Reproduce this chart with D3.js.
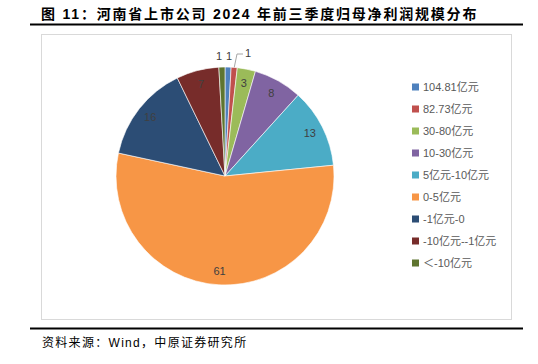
<!DOCTYPE html>
<html>
<head>
<meta charset="utf-8">
<script src="https://cdn.jsdelivr.net/npm/d3@7"></script>
<style>
  body { margin: 0; background: #fff; }
  svg { display: block; }
  text { font-family: "Liberation Sans", "Noto Sans CJK SC", sans-serif; }
</style>
</head>
<body>
<svg id="chart" width="538" height="364"></svg>
<script>
const categories = ["104.81亿元", "82.73亿元", "30-80亿元", "10-30亿元", "5亿元-10亿元", "0-5亿元", "-1亿元-0", "-10亿元--1亿元", "＜-10亿元"];
const counts = [1, 1, 3, 8, 13, 61, 16, 7, 1];
const colours = ["#4F81BD", "#C0504D", "#9BBB59", "#8064A2", "#4BACC6", "#F79646", "#2C4D75", "#772C2A", "#5F7530"];

const title = "图 11：河南省上市公司 2024 年前三季度归母净利润规模分布";
const source = "资料来源：Wind，中原证券研究所";

const svg = d3.select("#chart");

// title + rules
svg.append("text")
    .attr("x", 41).attr("y", 19)
    .style("font-size", "14px").style("font-weight", "bold").style("fill", "#000")
    .style("letter-spacing", "1.8px")
    .text(title);
svg.append("line").attr("x1", 30).attr("x2", 523).attr("y1", 24.5).attr("y2", 24.5)
    .style("stroke", "#000").style("stroke-width", 2);
svg.append("line").attr("x1", 30).attr("x2", 523).attr("y1", 328.5).attr("y2", 328.5)
    .style("stroke", "#000").style("stroke-width", 2);
svg.append("text")
    .attr("x", 42).attr("y", 347)
    .style("font-size", "12px").style("fill", "#000")
    .style("letter-spacing", "1.3px")
    .text(source);

// chart frame
svg.append("rect").attr("x", 41.5).attr("y", 34.5).attr("width", 470).attr("height", 285)
    .style("fill", "none").style("stroke", "#d9d9d9").style("stroke-width", 1);

const cx = 225, cy = 176, radius = 109;
const data = categories.map((c, i) => ({name: c, value: counts[i], colour: colours[i]}));

const pie = d3.pie().value(d => d.value).sort(null);
const arcs = pie(data);
const arc = d3.arc().innerRadius(0).outerRadius(radius);
const labelArc = d3.arc().innerRadius(95).outerRadius(95);

const g = svg.append("g").attr("transform", `translate(${cx}, ${cy})`);

g.selectAll(".slice")
    .data(arcs)
    .enter().append("path")
    .attr("class", "slice")
    .attr("d", arc)
    .style("fill", d => d.data.colour)
    .style("stroke", "#fff")
    .style("stroke-width", 0.6);

// labels inside for big slices
g.selectAll(".lbl")
    .data(arcs.filter(d => d.data.value > 1))
    .enter().append("text")
    .attr("class", "lbl")
    .attr("transform", d => `translate(${labelArc.centroid(d)})`)
    .attr("text-anchor", "middle")
    .attr("dy", "0.35em")
    .style("font-size", "11px")
    .style("fill", "#404040")
    .text(d => d.data.value);

// small slices: outside labels
const outside = [
    {i: 8, x: -6, y: -120},
    {i: 0, x: 4, y: -120},
    {i: 1, x: 23, y: -123}
];
outside.forEach(o => {
    g.append("text")
        .attr("x", o.x).attr("y", o.y)
        .attr("text-anchor", "middle")
        .attr("dy", "0.35em")
        .style("font-size", "11px")
        .style("fill", "#404040")
        .text(counts[o.i]);
});
// leader for the red slice
const redMid = (arcs[1].startAngle + arcs[1].endAngle) / 2;
const p0 = [Math.sin(redMid) * radius, -Math.cos(redMid) * radius];
g.append("polyline")
    .attr("points", [p0, [12, -122], [18, -122]].map(p => p.join(",")).join(" "))
    .style("fill", "none").style("stroke", "#a6a6a6").style("stroke-width", 1);

// legend
const legend = svg.append("g").attr("transform", "translate(412, 87)");
const rows = legend.selectAll(".row")
    .data(data)
    .enter().append("g")
    .attr("class", "row")
    .attr("transform", (d, i) => `translate(0, ${i * 22})`);
rows.append("rect")
    .attr("x", 0).attr("y", -3.5).attr("width", 7).attr("height", 7)
    .style("fill", d => d.colour);
rows.append("text")
    .attr("x", 11).attr("dy", "0.35em")
    .style("font-size", "11px")
    .style("fill", "#595959")
    .text(d => d.name);
</script>
</body>
</html>
